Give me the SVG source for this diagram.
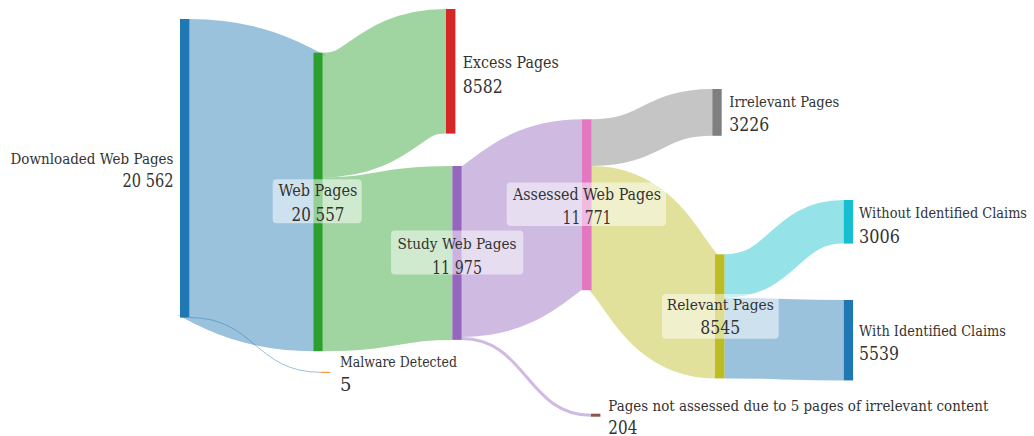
<svg xmlns="http://www.w3.org/2000/svg" width="1034" height="436" viewBox="0 0 1034 436">
  <style>
    .link { fill: none; stroke-opacity: 0.45; }
    text { font-family: "DejaVu Serif", serif; fill: #333; }
    .num { font-size: 18px; }
    .box { fill: #ffffff; fill-opacity: 0.5; }
    .mid { text-anchor: middle; }
  </style>
  <rect width="1034" height="436" fill="#ffffff"/>

  <!-- flows between stages: centre lines stroked at the flow width -->
  <g id="links">
    <path class="link" stroke="#1f77b4" stroke-width="298.5" d="M189.5,168.25 C251.4,168.25 251.4,201.95 313.3,201.95"/>
    <path class="link" stroke="#1f77b4" stroke-width="1" d="M189.5,317.55 C255.1,317.55 255.1,372.3 320.7,372.3"/>
    <path class="link" stroke="#2ca02c" stroke-width="124.6" d="M322.7,115 C384.4,115 384.4,71.3 446,71.3"/>
    <path class="link" stroke="#2ca02c" stroke-width="173.9" d="M322.7,264.25 C387.5,264.25 387.5,252.95 452.3,252.95"/>
    <path class="link" stroke="#9467bd" stroke-width="170.9" d="M461.7,251.45 C521.9,251.45 521.9,204.75 582,204.75"/>
    <path class="link" stroke="#9467bd" stroke-width="3" d="M461.7,338.4 C526.4,338.4 526.4,415.2 591,415.2"/>
    <path class="link" stroke="#7f7f7f" stroke-width="46.8" d="M591.7,142.7 C652,142.7 652,112.4 712.3,112.4"/>
    <path class="link" stroke="#bcbd22" stroke-width="124.1" d="M591.7,228.15 C653.4,228.15 653.4,316.35 715,316.35"/>
    <path class="link" stroke="#17becf" stroke-width="43.6" d="M724.3,276.1 C784,276.1 784,221.8 843.7,221.8"/>
    <path class="link" stroke="#1f77b4" stroke-width="80.5" d="M724.3,338.15 C784,338.15 784,340.2 843.7,340.2"/>
  </g>

  <!-- stage bars -->
  <g id="node-downloaded"><rect x="180" y="19" width="9.5" height="298.6" fill="#1f77b4"/></g>
  <g id="node-web"><rect x="313.3" y="52.7" width="9.4" height="298.5" fill="#2ca02c"/></g>
  <g id="node-excess"><rect x="446" y="9" width="9.4" height="124.6" fill="#d62728"/></g>
  <g id="node-malware"><rect x="320.7" y="371.8" width="9.4" height="1" fill="#ff7f0e"/></g>
  <g id="node-study"><rect x="452.3" y="166" width="9.4" height="173.9" fill="#9467bd"/></g>
  <g id="node-notassessed"><rect x="591" y="413.7" width="9.4" height="3" fill="#8c564b"/></g>
  <g id="node-assessed"><rect x="582" y="119.3" width="9.7" height="170.9" fill="#e377c2"/></g>
  <g id="node-irrelevant"><rect x="712.3" y="89" width="9.4" height="46.8" fill="#7f7f7f"/></g>
  <g id="node-relevant"><rect x="715" y="254.3" width="9.4" height="124.1" fill="#bcbd22"/></g>
  <g id="node-without"><rect x="843.7" y="200" width="9.4" height="43.6" fill="#17becf"/></g>
  <g id="node-with"><rect x="843.7" y="300" width="9.4" height="80.4" fill="#1f77b4"/></g>

  <!-- labels: widths pinned so the serif face keeps a Times-like set width -->
  <g id="labels" lengthAdjust="spacingAndGlyphs">
    <text x="173.5" y="164" font-size="15.3" text-anchor="end" textLength="163" lengthAdjust="spacingAndGlyphs">Downloaded Web Pages</text>
    <text class="num" x="173.5" y="187" text-anchor="end" textLength="51" lengthAdjust="spacingAndGlyphs">20 562</text>

    <rect class="box" x="272.7" y="179.3" width="89" height="44" rx="4"/>
    <text class="mid" x="318" y="196" font-size="16.2" textLength="79" lengthAdjust="spacingAndGlyphs">Web Pages</text>
    <text class="num mid" x="318" y="221" textLength="53" lengthAdjust="spacingAndGlyphs">20 557</text>

    <text x="462.7" y="68.3" font-size="16.2" textLength="96" lengthAdjust="spacingAndGlyphs">Excess Pages</text>
    <text class="num" x="462.7" y="93.3" textLength="40" lengthAdjust="spacingAndGlyphs">8582</text>

    <text x="340" y="367" font-size="14.4" textLength="117" lengthAdjust="spacingAndGlyphs">Malware Detected</text>
    <text class="num" x="340" y="391">5</text>

    <rect class="box" x="391" y="230.5" width="132.3" height="44" rx="4"/>
    <text class="mid" x="457" y="248.5" font-size="15.3" textLength="119" lengthAdjust="spacingAndGlyphs">Study Web Pages</text>
    <text class="num mid" x="457" y="273.5" textLength="50" lengthAdjust="spacingAndGlyphs">11 975</text>

    <text x="608.3" y="410.5" font-size="14.4" textLength="380" lengthAdjust="spacingAndGlyphs">Pages not assessed due to 5 pages of irrelevant content</text>
    <text class="num" x="608.3" y="434" textLength="29" lengthAdjust="spacingAndGlyphs">204</text>

    <rect class="box" x="506.7" y="182.5" width="159.3" height="43.5" rx="4"/>
    <text class="mid" x="587" y="199.5" font-size="16.2" textLength="148" lengthAdjust="spacingAndGlyphs">Assessed Web Pages</text>
    <text class="num mid" x="587" y="223.5" textLength="49" lengthAdjust="spacingAndGlyphs">11 771</text>

    <text x="729.3" y="107" font-size="15.3" textLength="110" lengthAdjust="spacingAndGlyphs">Irrelevant Pages</text>
    <text class="num" x="729.3" y="131" textLength="40" lengthAdjust="spacingAndGlyphs">3226</text>

    <rect class="box" x="662" y="294" width="116.7" height="44.7" rx="4"/>
    <text class="mid" x="720.3" y="309.5" font-size="15.7" textLength="107" lengthAdjust="spacingAndGlyphs">Relevant Pages</text>
    <text class="num mid" x="720.3" y="333.5" textLength="40" lengthAdjust="spacingAndGlyphs">8545</text>

    <text x="859" y="217.7" font-size="14.4" textLength="168" lengthAdjust="spacingAndGlyphs">Without Identified Claims</text>
    <text class="num" x="859" y="242.7" textLength="41" lengthAdjust="spacingAndGlyphs">3006</text>

    <text x="859" y="335.7" font-size="14.4" textLength="147" lengthAdjust="spacingAndGlyphs">With Identified Claims</text>
    <text class="num" x="859" y="360" textLength="40" lengthAdjust="spacingAndGlyphs">5539</text>
  </g>
</svg>
